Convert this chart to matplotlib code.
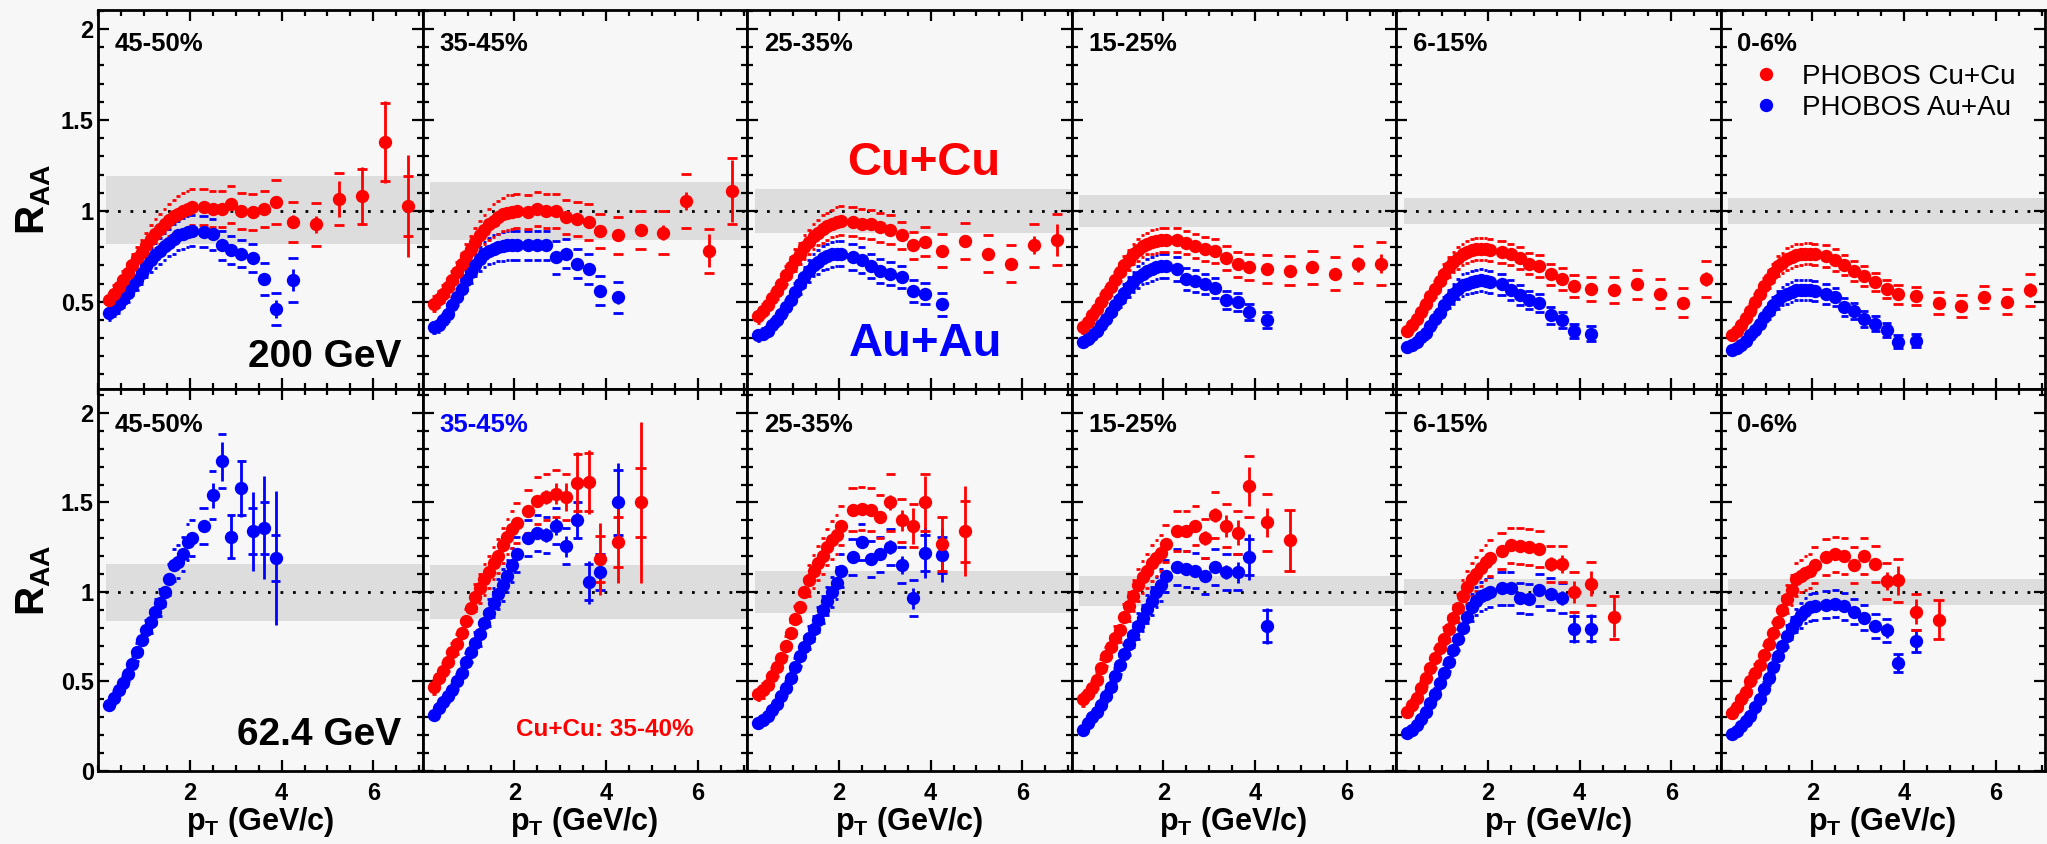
import numpy as np
import matplotlib.pyplot as plt
from matplotlib.ticker import MultipleLocator, FixedLocator, FuncFormatter

# ---- data ----
# pT bin centres: dense low-pT part and the sparse high-pT part
pt_dense = [0.25, 0.35, 0.45, 0.55, 0.65, 0.75, 0.85, 0.95, 1.05, 1.15,
            1.25, 1.35, 1.45, 1.55, 1.65, 1.75, 1.85, 1.95, 2.05]
pt_high = [2.3, 2.5, 2.7, 2.9, 3.125, 3.375, 3.625, 3.875, 4.25, 4.75,
           5.25, 5.75, 6.25, 6.75]

cent_labels = ['45-50%', '35-45%', '25-35%', '15-25%', '6-15%', '0-6%']

# normalisation band (low, high) around R_AA = 1, per panel
band_200 = [(0.816, 1.193), (0.84, 1.16), (0.88, 1.12), (0.91, 1.09), (0.93, 1.07), (0.93, 1.07)]
band_62 = [(0.84, 1.157), (0.85, 1.15), (0.88, 1.12), (0.92, 1.09), (0.93, 1.07), (0.93, 1.07)]

# 200 GeV Cu+Cu
cu200_45_50 = [0.51, 0.545, 0.58, 0.62, 0.66, 0.70, 0.74, 0.775, 0.81, 0.845, 0.875, 0.90, 0.925, 0.95, 0.97, 0.985, 1.0, 1.01, 1.02,
               1.02, 1.01, 1.01, 1.035, 1.0, 0.995, 1.01, 1.05, 0.94, 0.925, 1.065, 1.08, 1.38, 1.025]
cu200_45_50_sys = [0.04, 0.045, 0.045, 0.05, 0.055, 0.06, 0.06, 0.065, 0.07, 0.075, 0.08, 0.08, 0.085, 0.09, 0.09, 0.095, 0.1, 0.1, 0.1,
                   0.1, 0.1, 0.1, 0.1, 0.1, 0.1, 0.1, 0.12, 0.11, 0.12, 0.145, 0.15, 0.215, 0.165]
cu200_45_50_stat = [0.01, 0.01, 0.015, 0.015, 0.015, 0.02, 0.025, 0.03, 0.035, 0.045, 0.1, 0.16, 0.225, 0.28]

cu200_35_45 = [0.49, 0.515, 0.545, 0.58, 0.62, 0.665, 0.71, 0.75, 0.79, 0.83, 0.865, 0.895, 0.925, 0.945, 0.965, 0.98, 0.99, 0.995, 1.0,
               0.995, 1.01, 1.0, 1.0, 0.965, 0.955, 0.94, 0.89, 0.865, 0.895, 0.88, 1.055, 0.78, 1.11]
cu200_35_45_sys = [0.04, 0.045, 0.045, 0.05, 0.05, 0.055, 0.06, 0.065, 0.07, 0.075, 0.08, 0.08, 0.085, 0.09, 0.09, 0.09, 0.095, 0.095, 0.095,
                   0.095, 0.095, 0.095, 0.095, 0.095, 0.095, 0.1, 0.095, 0.1, 0.105, 0.12, 0.15, 0.12, 0.18]
cu200_35_45_stat = [0.01, 0.01, 0.01, 0.015, 0.015, 0.02, 0.02, 0.025, 0.03, 0.035, 0.04, 0.05, 0.09, 0.17]

cu200_25_35 = [0.42, 0.45, 0.48, 0.52, 0.56, 0.60, 0.645, 0.69, 0.73, 0.765, 0.80, 0.83, 0.86, 0.88, 0.90, 0.915, 0.93, 0.94, 0.945,
               0.94, 0.93, 0.925, 0.91, 0.895, 0.865, 0.81, 0.83, 0.78, 0.835, 0.765, 0.71, 0.81, 0.84]
cu200_25_35_sys = [0.035, 0.035, 0.04, 0.04, 0.045, 0.05, 0.05, 0.055, 0.06, 0.06, 0.065, 0.065, 0.07, 0.07, 0.075, 0.075, 0.075, 0.08, 0.08,
                   0.08, 0.08, 0.08, 0.08, 0.08, 0.075, 0.075, 0.08, 0.09, 0.1, 0.1, 0.1, 0.12, 0.14]
cu200_25_35_stat = [0.01, 0.01, 0.01, 0.01, 0.015, 0.015, 0.02, 0.02, 0.025, 0.03, 0.03, 0.03, 0.05, 0.09]

cu200_15_25 = [0.36, 0.39, 0.425, 0.46, 0.50, 0.54, 0.58, 0.62, 0.665, 0.70, 0.73, 0.76, 0.785, 0.805, 0.82, 0.83, 0.835, 0.84, 0.84,
               0.84, 0.825, 0.805, 0.79, 0.78, 0.74, 0.705, 0.69, 0.68, 0.67, 0.69, 0.655, 0.705, 0.71]
cu200_15_25_sys = [0.03, 0.03, 0.035, 0.035, 0.04, 0.04, 0.045, 0.045, 0.05, 0.05, 0.055, 0.055, 0.06, 0.06, 0.06, 0.065, 0.065, 0.065, 0.065,
                   0.065, 0.065, 0.065, 0.065, 0.065, 0.065, 0.07, 0.07, 0.075, 0.08, 0.09, 0.09, 0.1, 0.12]
cu200_15_25_stat = [0.01, 0.01, 0.01, 0.01, 0.01, 0.01, 0.015, 0.015, 0.02, 0.02, 0.025, 0.03, 0.04, 0.05]

cu200_6_15 = [0.34, 0.37, 0.405, 0.445, 0.49, 0.53, 0.57, 0.615, 0.655, 0.69, 0.72, 0.74, 0.76, 0.775, 0.785, 0.79, 0.79, 0.79, 0.785,
              0.775, 0.76, 0.74, 0.71, 0.695, 0.65, 0.625, 0.585, 0.57, 0.565, 0.595, 0.545, 0.495, 0.625]
cu200_6_15_sys = [0.03, 0.03, 0.035, 0.035, 0.04, 0.04, 0.045, 0.05, 0.05, 0.055, 0.055, 0.06, 0.06, 0.06, 0.06, 0.06, 0.06, 0.06, 0.06,
                  0.06, 0.06, 0.06, 0.06, 0.06, 0.06, 0.06, 0.06, 0.065, 0.07, 0.08, 0.08, 0.08, 0.1]
cu200_6_15_stat = [0.01, 0.01, 0.01, 0.01, 0.01, 0.01, 0.01, 0.015, 0.015, 0.02, 0.02, 0.025, 0.03, 0.04]

cu200_0_6 = [0.315, 0.34, 0.37, 0.41, 0.45, 0.50, 0.545, 0.585, 0.625, 0.66, 0.695, 0.715, 0.735, 0.745, 0.755, 0.76, 0.765, 0.765, 0.76,
             0.75, 0.73, 0.70, 0.67, 0.64, 0.61, 0.57, 0.54, 0.53, 0.495, 0.475, 0.525, 0.50, 0.565]
cu200_0_6_sys = [0.025, 0.03, 0.03, 0.035, 0.035, 0.04, 0.045, 0.045, 0.05, 0.05, 0.055, 0.055, 0.06, 0.06, 0.06, 0.06, 0.06, 0.06, 0.06,
                 0.06, 0.06, 0.055, 0.055, 0.055, 0.05, 0.05, 0.05, 0.05, 0.06, 0.06, 0.06, 0.07, 0.09]
cu200_0_6_stat = [0.01, 0.01, 0.01, 0.01, 0.01, 0.01, 0.01, 0.015, 0.015, 0.02, 0.02, 0.025, 0.03, 0.04]

# 200 GeV Au+Au
au200_45_50 = [0.44, 0.46, 0.485, 0.515, 0.55, 0.585, 0.62, 0.66, 0.695, 0.73, 0.755, 0.78, 0.805, 0.825, 0.845, 0.865, 0.875, 0.885, 0.89,
               0.885, 0.87, 0.81, 0.785, 0.765, 0.74, 0.625, 0.46, 0.62]
au200_45_50_sys = [0.04, 0.04, 0.045, 0.045, 0.05, 0.05, 0.055, 0.06, 0.06, 0.065, 0.07, 0.07, 0.075, 0.075, 0.08, 0.08, 0.085, 0.085, 0.085,
                   0.085, 0.085, 0.08, 0.075, 0.075, 0.075, 0.09, 0.09, 0.12]
au200_45_50_stat = [0.01, 0.01, 0.015, 0.02, 0.02, 0.03, 0.035, 0.05, 0.06]

au200_35_45 = [0.36, 0.37, 0.40, 0.435, 0.48, 0.525, 0.57, 0.62, 0.665, 0.70, 0.735, 0.76, 0.78, 0.79, 0.80, 0.805, 0.81, 0.81, 0.81,
               0.81, 0.81, 0.81, 0.745, 0.765, 0.71, 0.68, 0.56, 0.525]
au200_35_45_sys = [0.03, 0.035, 0.035, 0.04, 0.04, 0.045, 0.05, 0.055, 0.06, 0.06, 0.065, 0.07, 0.07, 0.075, 0.075, 0.08, 0.08, 0.08, 0.08,
                   0.08, 0.08, 0.08, 0.09, 0.08, 0.08, 0.08, 0.08, 0.085]
au200_35_45_stat = [0.01, 0.01, 0.01, 0.015, 0.015, 0.02, 0.025, 0.03, 0.035]

au200_25_35 = [0.315, 0.325, 0.34, 0.37, 0.40, 0.435, 0.47, 0.51, 0.555, 0.595, 0.635, 0.67, 0.70, 0.72, 0.74, 0.75, 0.76, 0.765, 0.765,
               0.745, 0.73, 0.695, 0.67, 0.655, 0.635, 0.56, 0.545, 0.485]
au200_25_35_sys = [0.03, 0.03, 0.03, 0.035, 0.035, 0.04, 0.04, 0.045, 0.05, 0.05, 0.055, 0.06, 0.06, 0.065, 0.065, 0.07, 0.07, 0.07, 0.07,
                   0.07, 0.07, 0.065, 0.065, 0.065, 0.06, 0.06, 0.06, 0.065]
au200_25_35_stat = [0.01, 0.01, 0.01, 0.01, 0.015, 0.015, 0.02, 0.025, 0.03]

au200_15_25 = [0.28, 0.295, 0.315, 0.34, 0.37, 0.405, 0.445, 0.48, 0.515, 0.55, 0.58, 0.61, 0.635, 0.655, 0.67, 0.68, 0.69, 0.695, 0.695,
               0.68, 0.625, 0.615, 0.595, 0.578, 0.51, 0.50, 0.445, 0.40]
au200_15_25_sys = [0.025, 0.025, 0.03, 0.03, 0.035, 0.035, 0.04, 0.045, 0.045, 0.05, 0.055, 0.055, 0.06, 0.06, 0.065, 0.065, 0.065, 0.065, 0.065,
                   0.065, 0.06, 0.06, 0.055, 0.055, 0.05, 0.05, 0.045, 0.045]
au200_15_25_stat = [0.01, 0.01, 0.01, 0.01, 0.01, 0.015, 0.015, 0.02, 0.025]

au200_6_15 = [0.25, 0.26, 0.28, 0.305, 0.33, 0.365, 0.405, 0.44, 0.48, 0.515, 0.545, 0.57, 0.59, 0.60, 0.61, 0.615, 0.618, 0.615, 0.61,
              0.595, 0.565, 0.535, 0.51, 0.495, 0.425, 0.40, 0.34, 0.325]
au200_6_15_sys = [0.025, 0.025, 0.03, 0.03, 0.035, 0.035, 0.04, 0.045, 0.045, 0.05, 0.055, 0.055, 0.06, 0.06, 0.06, 0.06, 0.06, 0.06, 0.06,
                  0.06, 0.055, 0.055, 0.05, 0.05, 0.045, 0.045, 0.04, 0.04]
au200_6_15_stat = [0.01, 0.01, 0.01, 0.01, 0.01, 0.01, 0.015, 0.02, 0.02]

au200_0_6 = [0.235, 0.245, 0.26, 0.285, 0.315, 0.345, 0.38, 0.415, 0.45, 0.48, 0.51, 0.53, 0.545, 0.555, 0.562, 0.565, 0.566, 0.565, 0.56,
             0.545, 0.525, 0.47, 0.45, 0.405, 0.38, 0.345, 0.28, 0.285]
au200_0_6_sys = [0.02, 0.025, 0.025, 0.03, 0.03, 0.035, 0.035, 0.04, 0.045, 0.045, 0.05, 0.05, 0.055, 0.055, 0.055, 0.055, 0.055, 0.055, 0.055,
                 0.055, 0.05, 0.05, 0.045, 0.045, 0.04, 0.04, 0.035, 0.035]
au200_0_6_stat = [0.01, 0.01, 0.01, 0.01, 0.01, 0.01, 0.015, 0.02, 0.02]

# 62.4 GeV Cu+Cu (no 45-50% bin; 35-45% panel shows Cu+Cu 35-40%)
cu62_35_40 = [0.47, 0.52, 0.56, 0.61, 0.665, 0.71, 0.77, 0.84, 0.91, 0.97, 1.02, 1.07, 1.11, 1.16, 1.20, 1.26, 1.31, 1.35, 1.385,
              1.45, 1.51, 1.53, 1.55, 1.53, 1.61, 1.615, 1.185, 1.28, 1.50]
cu62_35_40_sys = [0.04, 0.04, 0.045, 0.05, 0.05, 0.055, 0.06, 0.065, 0.07, 0.075, 0.08, 0.085, 0.09, 0.09, 0.095, 0.1, 0.1, 0.105, 0.11,
                  0.12, 0.13, 0.13, 0.13, 0.13, 0.16, 0.16, 0.13, 0.14, 0.19]
cu62_35_40_stat = [0.02, 0.03, 0.04, 0.06, 0.08, 0.17, 0.18, 0.2, 0.23, 0.45]

cu62_25_35 = [0.43, 0.45, 0.48, 0.53, 0.58, 0.63, 0.70, 0.77, 0.85, 0.915, 1.0, 1.065, 1.115, 1.16, 1.20, 1.25, 1.29, 1.32, 1.37,
              1.46, 1.465, 1.46, 1.42, 1.50, 1.40, 1.37, 1.50, 1.27, 1.34]
cu62_25_35_sys = [0.035, 0.04, 0.04, 0.045, 0.05, 0.05, 0.055, 0.06, 0.07, 0.075, 0.08, 0.085, 0.09, 0.095, 0.1, 0.1, 0.105, 0.11, 0.11,
                  0.12, 0.12, 0.12, 0.12, 0.16, 0.12, 0.12, 0.16, 0.15, 0.17]
cu62_25_35_stat = [0.02, 0.02, 0.03, 0.03, 0.04, 0.06, 0.1, 0.15, 0.15, 0.25]

cu62_15_25 = [0.40, 0.43, 0.465, 0.51, 0.575, 0.64, 0.695, 0.745, 0.79, 0.86, 0.92, 0.98, 1.04, 1.085, 1.12, 1.16, 1.19, 1.22, 1.27,
              1.34, 1.34, 1.37, 1.30, 1.43, 1.37, 1.33, 1.59, 1.39, 1.29]
cu62_15_25_sys = [0.035, 0.035, 0.04, 0.045, 0.05, 0.055, 0.06, 0.065, 0.07, 0.075, 0.08, 0.085, 0.09, 0.09, 0.095, 0.1, 0.1, 0.1, 0.105,
                  0.11, 0.11, 0.11, 0.11, 0.13, 0.12, 0.12, 0.17, 0.16, 0.17]
cu62_15_25_stat = [0.02, 0.02, 0.03, 0.04, 0.04, 0.06, 0.07, 0.11, 0.08, 0.17]

cu62_6_15 = [0.33, 0.37, 0.41, 0.465, 0.52, 0.575, 0.63, 0.685, 0.74, 0.795, 0.855, 0.91, 0.98, 1.03, 1.07, 1.10, 1.135, 1.165, 1.19,
             1.23, 1.26, 1.255, 1.25, 1.24, 1.155, 1.155, 1.0, 1.045, 0.86]
cu62_6_15_sys = [0.03, 0.03, 0.035, 0.04, 0.045, 0.05, 0.055, 0.06, 0.065, 0.07, 0.075, 0.08, 0.085, 0.09, 0.09, 0.095, 0.1, 0.1, 0.1,
                 0.1, 0.1, 0.1, 0.1, 0.1, 0.1, 0.1, 0.11, 0.12, 0.12]
cu62_6_15_stat = [0.02, 0.02, 0.02, 0.02, 0.03, 0.04, 0.05, 0.06, 0.07, 0.11]

cu62_0_6 = [0.325, 0.36, 0.40, 0.44, 0.50, 0.55, 0.59, 0.648, 0.71, 0.77, 0.835, 0.90, 0.96, 1.01, 1.07, 1.09, 1.105, 1.12, 1.15,
            1.195, 1.21, 1.20, 1.15, 1.20, 1.155, 1.06, 1.065, 0.89, 0.845]
cu62_0_6_sys = [0.03, 0.03, 0.035, 0.04, 0.045, 0.05, 0.05, 0.055, 0.06, 0.065, 0.07, 0.075, 0.08, 0.085, 0.09, 0.09, 0.095, 0.095, 0.1,
                0.1, 0.1, 0.1, 0.1, 0.1, 0.1, 0.1, 0.12, 0.1, 0.11]
cu62_0_6_stat = [0.02, 0.02, 0.02, 0.02, 0.03, 0.03, 0.05, 0.08, 0.07, 0.11]

# 62.4 GeV Au+Au
au62_45_50 = [0.37, 0.41, 0.45, 0.49, 0.54, 0.595, 0.665, 0.73, 0.785, 0.835, 0.89, 0.94, 1.0, 1.07, 1.15, 1.17, 1.21, 1.28, 1.30,
              1.37, 1.54, 1.73, 1.31, 1.58, 1.34, 1.36, 1.19]
au62_45_50_sys = [0.03, 0.035, 0.035, 0.04, 0.04, 0.045, 0.05, 0.055, 0.06, 0.065, 0.07, 0.075, 0.08, 0.085, 0.09, 0.09, 0.095, 0.1, 0.1,
                  0.1, 0.135, 0.15, 0.12, 0.15, 0.13, 0.145, 0.13]
au62_45_50_stat = [0.03, 0.07, 0.11, 0.12, 0.16, 0.22, 0.29, 0.375]

au62_35_45 = [0.315, 0.35, 0.385, 0.42, 0.45, 0.50, 0.545, 0.61, 0.665, 0.715, 0.765, 0.825, 0.885, 0.94, 0.99, 1.04, 1.09, 1.15, 1.21,
              1.30, 1.33, 1.32, 1.37, 1.255, 1.40, 1.055, 1.11, 1.50]
au62_35_45_sys = [0.025, 0.03, 0.03, 0.035, 0.035, 0.04, 0.045, 0.05, 0.055, 0.06, 0.065, 0.07, 0.075, 0.08, 0.085, 0.09, 0.09, 0.095, 0.1,
                  0.1, 0.1, 0.1, 0.1, 0.1, 0.1, 0.1, 0.1, 0.18]
au62_35_45_stat = [0.02, 0.03, 0.04, 0.05, 0.06, 0.1, 0.12, 0.1, 0.22]

au62_25_35 = [0.27, 0.285, 0.305, 0.34, 0.375, 0.42, 0.465, 0.52, 0.58, 0.64, 0.695, 0.745, 0.795, 0.845, 0.90, 0.95, 1.0, 1.05, 1.12,
              1.195, 1.28, 1.185, 1.21, 1.25, 1.15, 0.965, 1.22, 1.205]
au62_25_35_sys = [0.02, 0.025, 0.025, 0.03, 0.03, 0.035, 0.04, 0.045, 0.05, 0.055, 0.06, 0.065, 0.07, 0.07, 0.075, 0.08, 0.085, 0.09, 0.09,
                  0.1, 0.1, 0.1, 0.1, 0.1, 0.1, 0.1, 0.1, 0.1]
au62_25_35_stat = [0.02, 0.02, 0.03, 0.03, 0.04, 0.05, 0.06, 0.14, 0.15]

au62_15_25 = [0.23, 0.27, 0.30, 0.33, 0.37, 0.42, 0.47, 0.53, 0.59, 0.655, 0.71, 0.76, 0.81, 0.855, 0.905, 0.95, 1.0, 1.04, 1.09,
              1.14, 1.13, 1.12, 1.09, 1.14, 1.11, 1.11, 1.195, 0.81]
au62_15_25_sys = [0.02, 0.025, 0.025, 0.03, 0.03, 0.035, 0.04, 0.045, 0.05, 0.055, 0.06, 0.065, 0.07, 0.075, 0.08, 0.08, 0.085, 0.09, 0.09,
                  0.1, 0.1, 0.1, 0.1, 0.1, 0.1, 0.1, 0.1, 0.09]
au62_15_25_stat = [0.02, 0.02, 0.02, 0.03, 0.03, 0.04, 0.06, 0.13, 0.1]

au62_6_15 = [0.215, 0.23, 0.255, 0.29, 0.33, 0.38, 0.43, 0.49, 0.55, 0.61, 0.675, 0.735, 0.80, 0.86, 0.915, 0.95, 0.975, 0.99, 1.0,
             1.02, 1.02, 0.965, 0.96, 1.01, 0.99, 0.965, 0.795, 0.795]
au62_6_15_sys = [0.02, 0.02, 0.02, 0.025, 0.03, 0.03, 0.035, 0.04, 0.045, 0.05, 0.055, 0.06, 0.065, 0.07, 0.075, 0.08, 0.08, 0.085, 0.085,
                 0.09, 0.09, 0.085, 0.085, 0.09, 0.09, 0.085, 0.07, 0.07]
au62_6_15_stat = [0.02, 0.02, 0.02, 0.02, 0.03, 0.03, 0.04, 0.08, 0.08]

au62_0_6 = [0.205, 0.225, 0.25, 0.28, 0.31, 0.355, 0.40, 0.46, 0.52, 0.58, 0.64, 0.70, 0.755, 0.80, 0.84, 0.87, 0.895, 0.915, 0.92,
            0.93, 0.935, 0.92, 0.89, 0.855, 0.81, 0.785, 0.605, 0.725]
au62_0_6_sys = [0.015, 0.02, 0.02, 0.02, 0.025, 0.03, 0.03, 0.035, 0.04, 0.045, 0.05, 0.055, 0.06, 0.06, 0.065, 0.07, 0.07, 0.075, 0.075,
                0.075, 0.075, 0.075, 0.07, 0.07, 0.065, 0.065, 0.05, 0.06]
au62_0_6_stat = [0.01, 0.01, 0.02, 0.02, 0.02, 0.03, 0.04, 0.05, 0.06]

cu200 = [(cu200_45_50, cu200_45_50_sys, cu200_45_50_stat), (cu200_35_45, cu200_35_45_sys, cu200_35_45_stat),
         (cu200_25_35, cu200_25_35_sys, cu200_25_35_stat), (cu200_15_25, cu200_15_25_sys, cu200_15_25_stat),
         (cu200_6_15, cu200_6_15_sys, cu200_6_15_stat), (cu200_0_6, cu200_0_6_sys, cu200_0_6_stat)]
au200 = [(au200_45_50, au200_45_50_sys, au200_45_50_stat), (au200_35_45, au200_35_45_sys, au200_35_45_stat),
         (au200_25_35, au200_25_35_sys, au200_25_35_stat), (au200_15_25, au200_15_25_sys, au200_15_25_stat),
         (au200_6_15, au200_6_15_sys, au200_6_15_stat), (au200_0_6, au200_0_6_sys, au200_0_6_stat)]
cu62 = [None, (cu62_35_40, cu62_35_40_sys, cu62_35_40_stat),
        (cu62_25_35, cu62_25_35_sys, cu62_25_35_stat), (cu62_15_25, cu62_15_25_sys, cu62_15_25_stat),
        (cu62_6_15, cu62_6_15_sys, cu62_6_15_stat), (cu62_0_6, cu62_0_6_sys, cu62_0_6_stat)]
au62 = [(au62_45_50, au62_45_50_sys, au62_45_50_stat), (au62_35_45, au62_35_45_sys, au62_35_45_stat),
        (au62_25_35, au62_25_35_sys, au62_25_35_stat), (au62_15_25, au62_15_25_sys, au62_15_25_stat),
        (au62_6_15, au62_6_15_sys, au62_6_15_stat), (au62_0_6, au62_0_6_sys, au62_0_6_stat)]


RED = '#ff0000'
BLUE = '#0000ff'
BG = '#f7f7f7'

plt.rcParams['font.family'] = ['Liberation Sans', 'DejaVu Sans']
plt.rcParams['font.weight'] = 'bold'
plt.rcParams['axes.labelweight'] = 'bold'
plt.rcParams['mathtext.fontset'] = 'custom'
plt.rcParams['mathtext.rm'] = 'Liberation Sans'
plt.rcParams['mathtext.bf'] = 'Liberation Sans:bold'


def drawSeries(ax, series, color):
	raa, sys, stat = series
	pt = np.array((pt_dense + pt_high)[:len(raa)])
	y = np.array(raa)
	s = np.array(sys)
	# systematic brackets: short horizontal dashes, width follows bin spacing
	half = np.minimum(0.4 * np.gradient(pt), 0.11)
	ax.hlines(y + s, pt - half, pt + half, color=color, lw=2.0, zorder=3)
	ax.hlines(y - s, pt - half, pt + half, color=color, lw=2.0, zorder=3)
	# statistical errors (only visible above the dense region)
	n = len(pt_dense)
	ax.vlines(pt[n:], y[n:] - np.array(stat), y[n:] + np.array(stat), color=color, lw=2.0, zorder=3)
	line, = ax.plot(pt, y, 'o', color=color, ms=9.6, mew=0, zorder=4)
	return line


def configPanel(ax, ylim, band, first_col, bottom_row):
	ax.set_facecolor(BG)
	ax.set_xlim(0, 7.07)
	ax.set_ylim(*ylim)
	ax.fill_between([0.17, 7.07], band[0], band[1], color='#dddddd', lw=0, zorder=1)
	ax.plot([0.15, 7.07], [1, 1], color='black', lw=2.0, dashes=(1, 3.5), zorder=2)
	ax.xaxis.set_major_locator(FixedLocator([2, 4, 6]))
	ax.xaxis.set_minor_locator(MultipleLocator(0.5))
	ax.yaxis.set_major_locator(MultipleLocator(0.5))
	ax.yaxis.set_minor_locator(MultipleLocator(0.1))
	ax.yaxis.set_major_formatter(FuncFormatter(lambda v, p: '%g' % v))
	ax.tick_params(which='both', direction='in', top=True, right=True, width=1.6, labelsize=17)
	ax.tick_params(which='major', length=8)
	ax.tick_params(which='minor', length=4.3)
	ax.tick_params(axis='y', pad=3)
	ax.tick_params(axis='x', pad=8)
	ax.tick_params(labelleft=first_col, labelbottom=bottom_row)
	for sp in ax.spines.values():
		sp.set_linewidth(2.0)


fig = plt.figure(figsize=(20.47, 8.44), dpi=100, facecolor=BG)
W, H = 2047.0, 844.0
pw = (2045 - 98) / 6.0

for i in range(6):
	left = (98 + i * pw) / W
	axt = fig.add_axes([left, 1 - 389 / H, pw / W, 379 / H])
	axb = fig.add_axes([left, 1 - 771 / H, pw / W, 382 / H])
	configPanel(axt, (0.02, 2.105), band_200[i], i == 0, False)
	configPanel(axb, (0.0, 2.134), band_62[i], i == 0, True)

	h_au = drawSeries(axt, au200[i], BLUE)
	h_cu = drawSeries(axt, cu200[i], RED)
	drawSeries(axb, au62[i], BLUE)
	if cu62[i] is not None:
		drawSeries(axb, cu62[i], RED)

	axt.text(0.052, 0.942, cent_labels[i], transform=axt.transAxes, fontsize=18.5, va='top', ha='left')
	axb.text(0.052, 0.937, cent_labels[i], transform=axb.transAxes, fontsize=18.5, va='top', ha='left',
	         color=BLUE if i == 1 else 'black')
	axb.set_xlabel(r'$\mathbf{p}_{\mathbf{T}}$ (GeV/c)', fontsize=22, fontweight='bold', labelpad=0)

	if i == 0:
		axt.set_ylabel(r'$\mathbf{R}_{\mathbf{AA}}$', fontsize=29, labelpad=6)
		axb.set_ylabel(r'$\mathbf{R}_{\mathbf{AA}}$', fontsize=29, labelpad=6)
		axt.text(0.935, 0.058, '200 GeV', transform=axt.transAxes, fontsize=28, ha='right', va='baseline')
		axb.text(0.935, 0.068, '62.4 GeV', transform=axb.transAxes, fontsize=28, ha='right', va='baseline')
	if i == 1:
		axb.text(3.96, 0.195, 'Cu+Cu: 35-40%', color=RED, fontsize=17.5, ha='center', va='baseline')
	if i == 2:
		axt.text(3.85, 1.2, 'Cu+Cu', color=RED, fontsize=34, ha='center', va='baseline')
		axt.text(3.9, 0.204, 'Au+Au', color=BLUE, fontsize=34, ha='center', va='baseline')
	if i == 5:
		axt.legend([h_cu, h_au], ['PHOBOS Cu+Cu', 'PHOBOS Au+Au'], loc='upper left',
		           bbox_to_anchor=(0.096, 0.858), frameon=False, prop={'size': 20, 'weight': 'normal'},
		           handlelength=1.0, handletextpad=0.8, labelspacing=0.18, borderpad=0,
		           borderaxespad=0, numpoints=1, markerscale=1.0)

fig.savefig('out.png', dpi=100, facecolor=BG)
